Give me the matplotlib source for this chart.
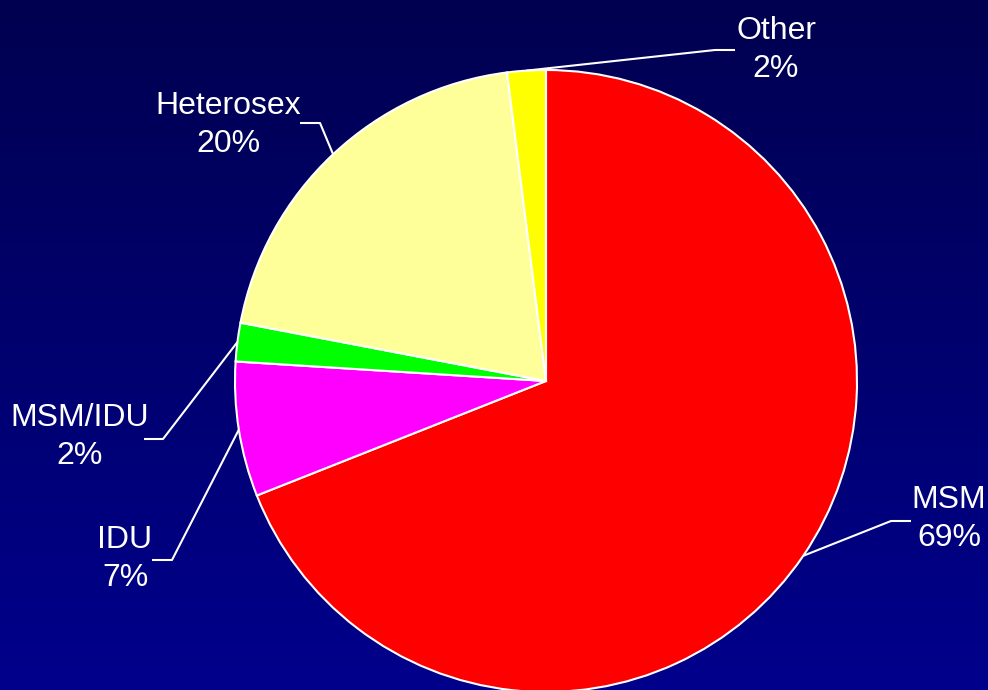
import numpy as np
import matplotlib.pyplot as plt
from matplotlib.colors import LinearSegmentedColormap

plt.rcParams['font.family'] = ['Liberation Sans', 'DejaVu Sans']

# Transmission categories, clockwise from 12 o'clock
categories = ["MSM", "IDU", "MSM/IDU", "Heterosex", "Other"]
shares = [69, 7, 2, 20, 2]
colors = ["#ff0000", "#ff00ff", "#00ff00", "#ffff99", "#ffff00"]

# label block centres and leader elbows (x, y in canvas units)
label_pos = {
    "MSM": (949, 171),
    "IDU": (125, 131),
    "MSM/IDU": (80, 253),
    "Heterosex": (228, 565),
    "Other": (776, 640),
}
elbows = {
    "MSM": [(891, 169), (911, 169)],
    "IDU": [(172, 130), (152, 130)],
    "MSM/IDU": [(163, 251), (144, 251)],
    "Heterosex": [(320, 567), (300, 567)],
    "Other": [(715, 640), (735, 640)],
}

W, H = 988, 690
fig = plt.figure(figsize=(W / 100, H / 100), dpi=100)
ax = fig.add_axes([0, 0, 1, 1])
ax.set_xlim(0, W)
ax.set_ylim(0, H)
ax.set_aspect('equal')
ax.axis('off')

# vertical navy gradient behind everything
bg = LinearSegmentedColormap.from_list("bg", ["#00008c", "#000050"])
grad = np.linspace(0, 1, 256).reshape(-1, 1)
ax.imshow(grad, cmap=bg, extent=[0, W, 0, H], origin='lower', aspect='auto', zorder=0)

center = (546, 309)
radius = 311
wedges, _ = ax.pie(shares, colors=colors, startangle=90, counterclock=False,
                   center=center, radius=radius,
                   wedgeprops=dict(edgecolor='white', linewidth=1.5))
for w in wedges:
    w.set_zorder(2)
ax.set_xlim(0, W)
ax.set_ylim(0, H)

for w, cat, val in zip(wedges, categories, shares):
    mid = np.deg2rad((w.theta1 + w.theta2) / 2)
    ax0 = center[0] + radius * np.cos(mid)
    ay0 = center[1] + radius * np.sin(mid)
    pts = [(ax0, ay0)] + elbows[cat]
    xs, ys = zip(*pts)
    ax.plot(xs, ys, color='white', lw=1.5, zorder=3, solid_capstyle='butt')
    lx, ly = label_pos[cat]
    ax.text(lx, ly, f"{cat}\n{val}%", color='white', fontsize=23,
            ha='center', va='center', linespacing=1.35, zorder=4)

fig.savefig("out.png", dpi=100)
